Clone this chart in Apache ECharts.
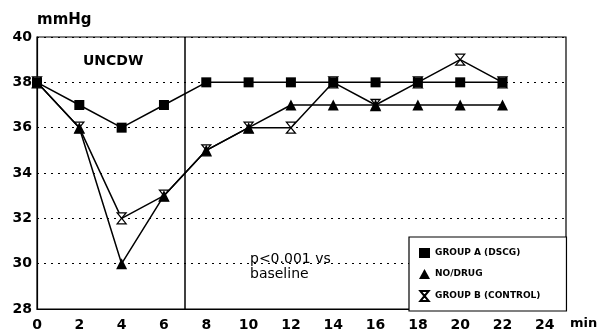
<!DOCTYPE html>
<html>
<head>
<meta charset="utf-8">
<script src="https://cdn.jsdelivr.net/npm/echarts@6/dist/echarts.min.js"></script>
<style>html,body{margin:0;padding:0;background:#fff}#c{width:598px;height:334px}</style>
</head>
<body>
<div id="c"></div>
<script>
var times = [0, 2, 4, 6, 8, 10, 12, 14, 16, 18, 20, 22];
var groupA = [38, 37, 36, 37, 38, 38, 38, 38, 38, 38, 38, 38];
var noDrug = [38, 36, 30, 33, 35, 36, 37, 37, 37, 37, 37, 37];
var groupB = [38, 36, 32, 33, 35, 36, 36, 38, 37, 38, 39, 38];
var seriesNames = ['GROUP A (DSCG)', 'NO/DRUG', 'GROUP B (CONTROL)'];
var markerTime = 7;

function pairs(vals) { return times.map(function (t, i) { return [t, vals[i]]; }); }

var hourglass = 'path://M0,0L10,0L5,6L10,12L0,12L5,6Z';
var F = 'DejaVu Sans';
var chart = echarts.init(document.getElementById('c'), null, { renderer: 'canvas' });
chart.setOption({
  animation: false,
  backgroundColor: '#fff',
  grid: { left: 37, right: 32, top: 37, bottom: 25, show: true, borderColor: '#000', borderWidth: 1.2, backgroundColor: 'transparent' },
  xAxis: {
    type: 'value', min: 0, max: 25, interval: 2,
    axisLine: { show: true, lineStyle: { color: '#000', width: 1.2 } },
    axisTick: { show: false },
    splitLine: { show: false },
    axisLabel: { showMaxLabel: false, color: '#000', fontFamily: F, fontWeight: 'bold', fontSize: 14, margin: 9 }
  },
  yAxis: {
    type: 'value', min: 28, max: 40, interval: 2,
    axisLine: { show: true, lineStyle: { color: '#000', width: 1.2 } },
    axisTick: { show: false },
    splitLine: { show: true, lineStyle: { color: '#000', type: [2, 5], width: 1.2 } },
    axisLabel: { color: '#000', fontFamily: F, fontWeight: 'bold', fontSize: 14, margin: 5 }
  },
  legend: {
    orient: 'vertical', left: 409, top: 237,
    padding: [11, 26, 9, 10], itemGap: 11, itemWidth: 11, itemHeight: 10,
    borderColor: '#000', borderWidth: 1.2, backgroundColor: '#fff',
    textStyle: { color: '#000', fontFamily: F, fontWeight: 'bold', fontSize: 9 },
    data: [
      { name: seriesNames[0], icon: 'rect' },
      { name: seriesNames[1], icon: 'triangle' },
      { name: seriesNames[2], icon: hourglass }
    ]
  },
  graphic: [
    { type: 'text', left: 37, top: 13, style: { text: 'mmHg', fill: '#000', font: 'bold 15px "DejaVu Sans"' } },
    { type: 'text', left: 83, top: 54, style: { text: 'UNCDW', fill: '#000', font: 'bold 14px "DejaVu Sans"' } },
    { type: 'text', left: 250, top: 252, style: { text: 'p<0.001 vs\nbaseline', fill: '#000', font: '14px "DejaVu Sans"', lineHeight: 15 } },
    { type: 'text', left: 570, top: 317, style: { text: 'min', fill: '#000', font: 'bold 13px "DejaVu Sans"' } }
  ],
  series: [
    {
      name: seriesNames[2], type: 'line', data: pairs(groupB), z: 2,
      symbol: hourglass, symbolSize: [9, 11],
      itemStyle: { color: '#fff', borderColor: '#000', borderWidth: 1.2 },
      lineStyle: { color: '#000', width: 1.5 }
    },
    {
      name: seriesNames[1], type: 'line', data: pairs(noDrug), z: 3,
      symbol: 'triangle', symbolSize: 11,
      itemStyle: { color: '#000' },
      lineStyle: { color: '#000', width: 1.5 }
    },
    {
      name: seriesNames[0], type: 'line', data: pairs(groupA), z: 4,
      symbol: 'rect', symbolSize: 10,
      itemStyle: { color: '#000' },
      lineStyle: { color: '#000', width: 1.5 },
      markLine: {
        silent: true, symbol: ['none', 'none'], label: { show: false },
        lineStyle: { color: '#000', type: 'solid', width: 1.5 },
        data: [{ xAxis: markerTime }]
      }
    }
  ]
});
</script>
</body>
</html>
